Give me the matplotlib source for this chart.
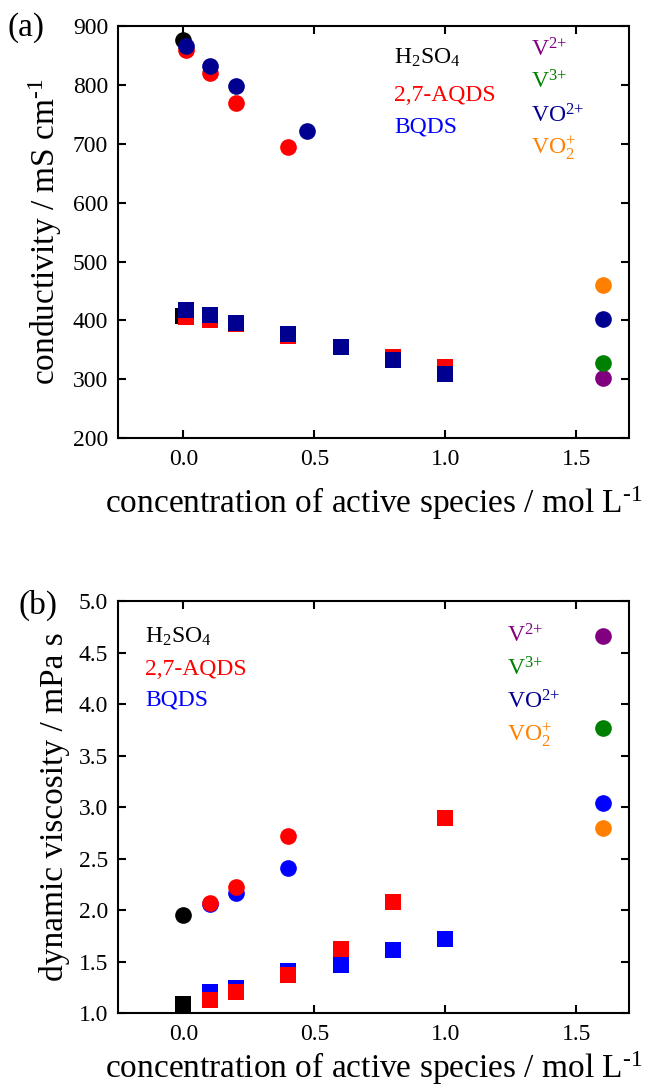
import matplotlib
matplotlib.use("Agg")
import matplotlib.pyplot as plt

plt.rcParams['font.family'] = ['Liberation Serif', 'DejaVu Serif']
plt.rcParams['mathtext.fontset'] = 'custom'
plt.rcParams['mathtext.rm'] = 'Liberation Serif'
plt.rcParams['mathtext.it'] = 'Liberation Serif:italic'
plt.rcParams['mathtext.bf'] = 'Liberation Serif:bold'

# ---- (a) conductivity data, mS cm-1 ----
h2so4_x = [0.0]
h2so4_cond_circ = [877]
h2so4_cond_sq = [407]

aqds_circ_x = [0.01, 0.1, 0.2, 0.4]
aqds_cond_circ = [860, 820, 769, 694]
bqds_circ_x_a = [0.01, 0.1, 0.2, 0.47]
bqds_cond_circ = [867, 833, 799, 722]

sq_x = [0.01, 0.1, 0.2, 0.4, 0.6, 0.8, 1.0]
aqds_cond_sq = [406, 401, 393, 373, 355, 337, 320]
bqds_cond_sq = [418, 409, 396, 377, 355, 332, 308]

van_x = [1.6, 1.6, 1.6, 1.6]
van_colors = ['purple', 'green', '#000090', '#ff8000']
van_cond = [302, 327, 403, 460]

# ---- (b) viscosity data, mPa s ----
h2so4_visc_circ = [1.95]
h2so4_visc_sq = [1.09]
circ_x_b = [0.1, 0.2, 0.4]
aqds_visc_circ = [2.07, 2.22, 2.72]
bqds_visc_circ = [2.055, 2.165, 2.41]
sq_x_b = [0.1, 0.2, 0.4, 0.6, 0.8, 1.0]
aqds_visc_sq = [1.13, 1.20, 1.37, 1.62, 2.08, 2.89]
bqds_visc_sq = [1.20, 1.24, 1.41, 1.47, 1.615, 1.72]
van_colors_b = ['purple', 'green', 'blue', '#ff8000']
van_visc = [4.66, 3.77, 3.04, 2.80]

labels_left = [r'H$_2$SO$_4$', '2,7-AQDS', 'BQDS']
labels_left_colors = ['black', 'red', 'blue']
labels_van = [r'V$^{\text{2+}}$', r'V$^{\text{3+}}$', r'VO$^{\text{2+}}$', r'VO$_2^{\text{+}}$']
labels_van_colors = ['purple', 'green', '#000090', '#ff8000']

navy = '#000090'
ms_c = 12
ms_s = 11
fs = 17

fig = plt.figure(figsize=(6.55, 10.87), dpi=100)
ax1 = fig.add_axes([0.180, 0.597, 0.780, 0.379])
ax2 = fig.add_axes([0.180, 0.068, 0.780, 0.379])

# panel a
ax1.plot(h2so4_x, h2so4_cond_sq, 's', color='black', ms=ms_s, mew=0)
ax1.plot(sq_x, aqds_cond_sq, 's', color='red', ms=ms_s, mew=0)
ax1.plot(sq_x, bqds_cond_sq, 's', color=navy, ms=ms_s, mew=0)
ax1.plot(h2so4_x, h2so4_cond_circ, 'o', color='black', ms=ms_c, mew=0)
ax1.plot(aqds_circ_x, aqds_cond_circ, 'o', color='red', ms=ms_c, mew=0)
ax1.plot(bqds_circ_x_a, bqds_cond_circ, 'o', color=navy, ms=ms_c, mew=0)
for x, y, c in zip(van_x, van_cond, van_colors):
    ax1.plot(x, y, 'o', color=c, ms=ms_c, mew=0)

ax1.set_ylim(200, 900)
ax1.set_yticks([200, 300, 400, 500, 600, 700, 800, 900])
ax1.set_ylabel(r'conductivity / mS cm$^{\text{-1}}$', fontsize=24, labelpad=6)

for lab, c, y in zip(labels_left, labels_left_colors, [846, 782, 728]):
    ax1.text(0.805, y, lab, color=c, fontsize=fs, va='center')
for lab, c, y in zip(labels_van, labels_van_colors, [859, 805, 748, 692]):
    ax1.text(1.325, y, lab, color=c, fontsize=fs, va='center')
fig.text(0.012, 0.975, '(a)', fontsize=24, va='center')

# panel b
ax2.plot(h2so4_x, h2so4_visc_sq, 's', color='black', ms=ms_s, mew=0)
ax2.plot(sq_x_b, bqds_visc_sq, 's', color='blue', ms=ms_s, mew=0)
ax2.plot(sq_x_b, aqds_visc_sq, 's', color='red', ms=ms_s, mew=0)
ax2.plot(h2so4_x, h2so4_visc_circ, 'o', color='black', ms=ms_c, mew=0)
ax2.plot(circ_x_b, bqds_visc_circ, 'o', color='blue', ms=ms_c, mew=0)
ax2.plot(circ_x_b, aqds_visc_circ, 'o', color='red', ms=ms_c, mew=0)
for x, y, c in zip(van_x, van_visc, van_colors_b):
    ax2.plot(x, y, 'o', color=c, ms=ms_c, mew=0)

ax2.set_ylim(1.0, 5.0)
ax2.set_yticks([1.0, 1.5, 2.0, 2.5, 3.0, 3.5, 4.0, 4.5, 5.0])
ax2.set_ylabel('dynamic viscosity / mPa s', fontsize=24, labelpad=6)

for lab, c, y in zip(labels_left, labels_left_colors, [4.65, 4.34, 4.04]):
    ax2.text(-0.146, y, lab, color=c, fontsize=fs, va='center')
for lab, c, y in zip(labels_van, labels_van_colors, [4.66, 4.34, 4.02, 3.70]):
    ax2.text(1.234, y, lab, color=c, fontsize=fs, va='center')
fig.text(0.028, 0.443, '(b)', fontsize=24, va='center')

for ax, lp in ((ax1, 10), (ax2, 3)):
    ax.set_xlim(-0.25, 1.7)
    ax.set_xticks([0.0, 0.5, 1.0, 1.5])
    ax.set_xticklabels(['0.0', '0.5', '1.0', '1.5'])
    ax.set_xlabel(r'concentration of active species / mol L$^{\text{-1}}$',
                  fontsize=24, labelpad=lp)
    ax.tick_params(direction='in', top=True, right=True, length=6, width=1.5,
                   labelsize=fs)
    ax.tick_params(axis='x', pad=8)
    ax.tick_params(axis='y', pad=7)
    for sp in ax.spines.values():
        sp.set_linewidth(1.5)

fig.savefig('out.png', dpi=100)
